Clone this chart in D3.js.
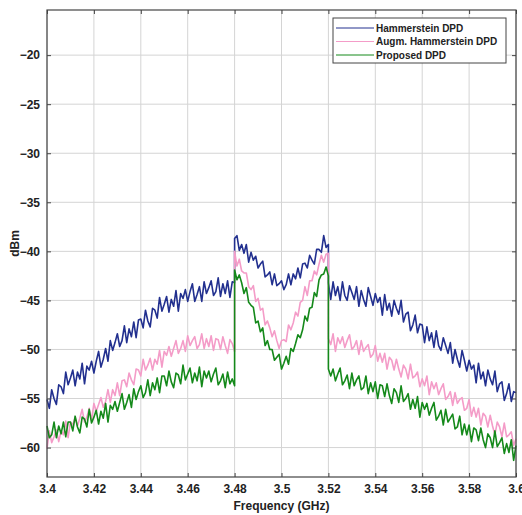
<!DOCTYPE html>
<html lang="en">
<head>
<meta charset="UTF-8">
<title>DPD spectrum</title>
<script src="https://d3js.org/d3.v7.min.js"></script>
<style>
  html, body { margin: 0; padding: 0; background: #fff; }
  text { font-family: 'Liberation Sans', Arial, sans-serif; fill: #222; }
</style>
</head>
<body>
<div id="chart"></div>
<script>
// frequency grid (GHz): outer-left band, inner band, outer-right band
var freqLeft  = d3.range(0, 81).map(function(i) { return 3.40 + i * 0.001; });
var freqMid   = d3.range(0, 41).map(function(i) { return 3.48 + i * 0.001; });
var freqRight = d3.range(0, 81).map(function(i) { return 3.52 + i * 0.001; });

// Hammerstein DPD (dBm)
var hammLeft = [-55.1,-56.0,-54.1,-55.0,-55.6,-53.6,-53.8,-54.5,-52.3,-53.6,
  -52.9,-52.1,-53.7,-52.3,-53.0,-51.4,-53.5,-51.7,-52.1,-51.2,
  -52.4,-51.2,-50.2,-51.8,-51.0,-49.9,-51.2,-49.1,-50.1,-49.3,
  -48.4,-49.7,-49.1,-47.6,-49.3,-47.9,-48.7,-47.2,-48.8,-47.0,
  -46.9,-47.8,-46.0,-47.1,-47.7,-45.8,-46.0,-46.8,-44.7,-46.1,
  -45.4,-44.6,-46.2,-44.9,-45.6,-44.0,-46.1,-44.3,-44.8,-43.9,
  -45.1,-44.1,-43.3,-45.1,-44.4,-43.6,-45.1,-43.1,-44.3,-43.7,
  -43.0,-44.5,-44.1,-42.7,-44.6,-43.3,-44.3,-43.0,-44.7,-43.1,-43.2];
var hammMid = [-38.7,-38.4,-39.9,-39.3,-40.2,-39.3,-41.1,-40.1,-40.9,-40.5,
  -41.7,-41.3,-41.0,-42.6,-42.4,-42.1,-43.4,-42.3,-43.5,-43.3,
  -43.0,-43.9,-43.4,-42.3,-43.4,-42.3,-42.8,-41.7,-42.7,-41.3,
  -41.2,-41.7,-40.4,-40.9,-41.3,-39.8,-39.8,-40.1,-38.4,-39.6,-39.3];
var hammRight = [-43.2,-44.9,-43.1,-44.5,-43.6,-45.0,-43.1,-44.5,-45.0,-43.5,
  -44.2,-44.9,-43.6,-45.6,-44.0,-44.9,-45.6,-43.7,-44.6,-45.5,
  -44.3,-45.2,-44.7,-46.5,-44.4,-46.0,-45.3,-46.6,-45.0,-45.8,
  -46.4,-45.0,-47.2,-46.4,-46.2,-48.1,-47.5,-46.5,-48.3,-47.4,
  -47.5,-49.3,-47.7,-49.1,-48.3,-49.8,-48.1,-49.6,-50.1,-48.8,
  -49.6,-50.4,-49.3,-51.4,-50.0,-51.0,-51.8,-50.1,-51.1,-52.2,
  -51.1,-52.0,-51.6,-53.4,-51.4,-53.0,-52.3,-53.7,-52.1,-53.0,
  -53.6,-52.2,-54.3,-53.5,-53.3,-55.2,-54.5,-53.5,-55.3,-54.3,-54.4];

// Augm. Hammerstein DPD (dBm)
var augmLeft = [-60.1,-58.3,-59.5,-58.9,-58.2,-59.4,-58.3,-58.7,-57.3,-59.0,
  -57.4,-57.7,-56.9,-57.8,-57.0,-56.1,-57.4,-56.9,-56.0,-57.2,
  -55.5,-56.3,-55.6,-54.9,-55.9,-55.3,-54.1,-55.4,-54.1,-54.7,
  -53.4,-54.7,-53.2,-53.1,-53.8,-52.4,-53.1,-53.6,-52.0,-52.1,
  -52.7,-51.0,-52.1,-51.6,-50.9,-52.1,-51.0,-51.5,-50.1,-51.8,
  -50.2,-50.6,-49.7,-50.7,-49.9,-49.1,-50.4,-49.9,-49.1,-50.2,
  -48.6,-49.6,-49.1,-48.7,-49.9,-49.5,-48.4,-49.9,-48.9,-49.7,
  -48.6,-50.1,-48.9,-49.0,-50.0,-48.7,-49.6,-50.4,-49.0,-49.4,-50.2];
var augmMid = [-40.0,-41.5,-40.8,-42.0,-42.2,-42.2,-43.6,-43.9,-43.5,-45.1,
  -44.8,-46.0,-45.8,-47.5,-47.1,-47.8,-48.7,-48.1,-49.1,-49.9,
  -49.1,-49.0,-49.2,-47.5,-48.0,-47.3,-46.2,-46.6,-45.2,-45.0,
  -43.6,-44.5,-43.0,-43.0,-42.0,-42.4,-41.3,-40.4,-41.1,-40.3,-40.2];
var augmRight = [-48.9,-49.5,-48.4,-50.2,-48.8,-49.4,-48.7,-49.8,-49.1,-48.5,
  -50.0,-49.7,-49.1,-50.5,-49.1,-50.2,-49.8,-49.5,-50.8,-50.5,
  -49.6,-51.2,-50.4,-51.3,-50.4,-52.0,-50.8,-51.1,-52.1,-51.0,
  -52.0,-52.8,-51.6,-52.0,-53.0,-51.5,-52.9,-52.7,-52.3,-53.8,
  -53.0,-53.7,-52.7,-54.6,-53.3,-54.0,-53.4,-54.6,-54.0,-53.5,
  -55.1,-54.8,-54.3,-55.7,-54.4,-55.5,-55.1,-54.9,-56.2,-56.0,
  -55.1,-56.8,-55.9,-56.9,-56.0,-57.7,-56.5,-56.8,-57.9,-56.7,
  -57.8,-58.7,-57.4,-57.9,-58.9,-57.5,-58.9,-58.7,-58.4,-59.8,-59.1];

// Proposed DPD (dBm)
var propLeft = [-57.8,-59.0,-58.7,-57.4,-59.0,-57.8,-58.6,-57.4,-58.9,-57.4,
  -57.4,-58.3,-56.8,-57.9,-58.5,-56.9,-57.1,-57.9,-56.1,-57.5,
  -56.9,-56.2,-57.6,-56.3,-57.0,-55.5,-57.4,-55.7,-56.1,-55.3,
  -56.3,-55.4,-54.5,-56.1,-55.4,-54.6,-55.9,-54.0,-55.1,-54.3,
  -53.7,-54.9,-54.4,-53.1,-54.7,-53.4,-54.1,-52.9,-54.4,-52.7,
  -52.7,-53.7,-52.2,-53.3,-53.9,-52.4,-52.6,-53.5,-51.6,-53.1,
  -52.5,-51.9,-53.4,-52.4,-53.2,-51.8,-53.8,-52.2,-52.9,-52.2,
  -53.3,-52.5,-51.9,-53.6,-53.2,-52.5,-53.9,-52.3,-53.5,-53.0,-53.7];
var propMid = [-41.9,-42.9,-42.4,-43.2,-44.3,-43.7,-45.2,-45.5,-45.7,-47.3,
  -47.1,-48.2,-47.8,-49.6,-49.1,-50.0,-50.0,-51.1,-50.8,-50.5,
  -52.0,-51.4,-50.7,-51.5,-49.9,-50.2,-49.4,-48.5,-48.8,-48.0,
  -46.6,-47.1,-45.8,-45.7,-44.2,-44.6,-42.9,-42.4,-42.3,-41.6,-42.5];
var propRight = [-52.0,-52.7,-52.0,-53.2,-52.5,-51.9,-53.6,-53.2,-52.6,-54.0,
  -52.4,-53.7,-53.1,-52.7,-54.1,-53.9,-52.7,-54.5,-53.4,-54.3,
  -53.3,-55.0,-53.6,-53.7,-54.8,-53.5,-54.7,-55.5,-54.0,-54.4,
  -55.4,-53.7,-55.3,-55.0,-54.5,-56.1,-55.1,-56.0,-54.8,-56.9,
  -55.4,-56.1,-55.5,-56.7,-56.0,-55.4,-57.2,-56.8,-56.2,-57.7,
  -56.1,-57.4,-57.0,-56.6,-58.1,-57.9,-56.8,-58.7,-57.6,-58.7,
  -57.7,-59.4,-58.0,-58.2,-59.3,-58.0,-59.2,-60.0,-58.6,-59.0,
  -60.0,-58.3,-59.9,-59.5,-59.0,-60.6,-59.6,-60.5,-59.2,-61.3,-59.8];

var seriesNames  = ["Hammerstein DPD", "Augm. Hammerstein DPD", "Proposed DPD"];
var seriesColors = ["#22308f", "#f49cc8", "#14891a"];
var xTicks = [3.4, 3.42, 3.44, 3.46, 3.48, 3.5, 3.52, 3.54, 3.56, 3.58, 3.6];
var yTicks = [-20, -25, -30, -35, -40, -45, -50, -55, -60];

var freqs = freqLeft.concat(freqMid, freqRight);
var series = [
  hammLeft.concat(hammMid, hammRight),
  augmLeft.concat(augmMid, augmRight),
  propLeft.concat(propMid, propRight)
];

var W = 522, H = 515;
var m = { left: 47, right: 516, top: 10, bottom: 477 };

var svg = d3.select("#chart").append("svg")
  .attr("width", W)
  .attr("height", H);

var x = d3.scaleLinear().domain([3.4, 3.6]).range([m.left, m.right]);
var y = d3.scaleLinear().domain([-63, -15.4]).range([m.bottom, m.top]);

// grid
svg.append("g")
  .selectAll("line")
  .data(xTicks)
  .enter().append("line")
  .attr("x1", function(d) { return x(d); })
  .attr("x2", function(d) { return x(d); })
  .attr("y1", m.top).attr("y2", m.bottom)
  .attr("stroke", "#d4d4d4").attr("stroke-width", 1);

svg.append("g")
  .selectAll("line")
  .data(yTicks)
  .enter().append("line")
  .attr("y1", function(d) { return y(d); })
  .attr("y2", function(d) { return y(d); })
  .attr("x1", m.left).attr("x2", m.right)
  .attr("stroke", "#d4d4d4").attr("stroke-width", 1);

// traces
var line = d3.line()
  .x(function(d, i) { return x(freqs[i]); })
  .y(function(d) { return y(d); });

svg.append("g")
  .selectAll("path")
  .data(series)
  .enter().append("path")
  .attr("d", line)
  .attr("fill", "none")
  .attr("stroke", function(d, i) { return seriesColors[i]; })
  .attr("stroke-width", 1.6)
  .attr("stroke-linejoin", "round");

// axes, matlab style: ticks inside on all four sides
function styleAxis(g) {
  g.select(".domain").remove();
  g.selectAll(".tick line").attr("stroke", "#444");
  g.selectAll(".tick text")
    .attr("font-size", "12px")
    .attr("font-weight", "bold")
    .attr("font-family", "'Liberation Sans', Arial, sans-serif")
    .attr("fill", "#222");
}

svg.append("g")
  .attr("transform", "translate(0," + m.bottom + ")")
  .call(d3.axisBottom(x).tickValues(xTicks).tickFormat(d3.format("")).tickSizeInner(-4).tickPadding(7))
  .call(styleAxis);

svg.append("g")
  .attr("transform", "translate(0," + m.top + ")")
  .call(d3.axisTop(x).tickValues(xTicks).tickFormat("").tickSizeInner(-4))
  .call(styleAxis);

svg.append("g")
  .attr("transform", "translate(" + m.left + ",0)")
  .call(d3.axisLeft(y).tickValues(yTicks).tickFormat(d3.format("")).tickSizeInner(-4).tickPadding(7))
  .call(styleAxis);

svg.append("g")
  .attr("transform", "translate(" + m.right + ",0)")
  .call(d3.axisRight(y).tickValues(yTicks).tickFormat("").tickSizeInner(-4))
  .call(styleAxis);

svg.append("rect")
  .attr("x", m.left).attr("y", m.top)
  .attr("width", m.right - m.left).attr("height", m.bottom - m.top)
  .attr("fill", "none").attr("stroke", "#444").attr("stroke-width", 1.2);

// axis labels
svg.append("text")
  .attr("x", (m.left + m.right) / 2)
  .attr("y", 510)
  .attr("text-anchor", "middle")
  .attr("font-size", "12px")
  .attr("font-weight", "bold")
  .text("Frequency (GHz)");

svg.append("text")
  .attr("transform", "translate(19," + ((m.top + m.bottom) / 2) + ") rotate(-90)")
  .attr("text-anchor", "middle")
  .attr("font-size", "12px")
  .attr("font-weight", "bold")
  .text("dBm");

// legend
var lg = svg.append("g").attr("transform", "translate(333,18)");
lg.append("rect")
  .attr("width", 173).attr("height", 45)
  .attr("fill", "#fff").attr("stroke", "#444").attr("stroke-width", 1);

seriesNames.forEach(function(name, i) {
  var ly = 10 + i * 13.5;
  lg.append("line")
    .attr("x1", 3).attr("x2", 41)
    .attr("y1", ly).attr("y2", ly)
    .attr("stroke", seriesColors[i]).attr("stroke-width", 1);
  lg.append("text")
    .attr("x", 43).attr("y", ly + 3.5)
    .attr("font-size", "10px")
    .attr("font-weight", "bold")
    .text(name);
});
</script>
</body>
</html>
